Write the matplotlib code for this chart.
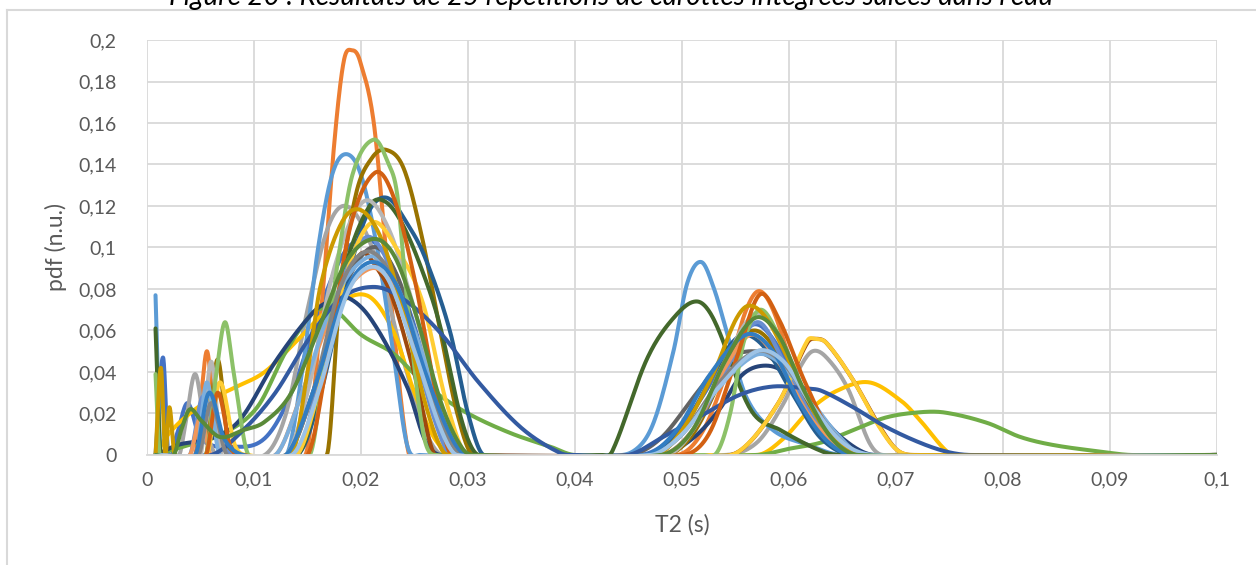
import numpy as np
import matplotlib
matplotlib.use('Agg')
import matplotlib.pyplot as plt
from matplotlib.lines import Line2D

plt.rcParams['font.family'] = ['Lato', 'DejaVu Sans']

# T2 knots in ms, pdf values (n.u.), one pair of lists per repetition
t01 = [0.8, 1.5, 2.0, 2.8, 3.8, 5.0, 8.0, 11.0, 13.5, 16.5, 18.5, 20.5, 22.5, 24.5, 27.5, 30.0, 46.0, 48.5, 51.5, 54.5, 56.8, 59.0, 61.5, 65.0, 68.0, 100]
y01 = [0, 0.047, 0, 0.01, 0.025, 0.008, 0.004, 0.008, 0.03, 0.075, 0.098, 0.104, 0.095, 0.07, 0.02, 0, 0, 0.006, 0.025, 0.05, 0.063, 0.052, 0.025, 0.004, 0, 0]

t02 = [0.8, 2.0, 4.5, 5.1, 5.6, 6.1, 6.8, 8.0, 14.8, 16.3, 17.5, 18.4, 19.2, 19.9, 21.2, 22.5, 24.5, 27.0, 49.5, 52.0, 54.5, 56.0, 57.2, 58.5, 60.5, 63.0, 66.5, 100]
y02 = [0, 0, 0, 0.03, 0.05, 0.03, 0, 0, 0, 0.07, 0.15, 0.19, 0.195, 0.19, 0.16, 0.09, 0, 0, 0, 0.012, 0.045, 0.07, 0.079, 0.07, 0.04, 0.012, 0, 0]

t03 = [0.8, 3.0, 3.6, 4.5, 5.4, 6.5, 11.0, 13.0, 15.0, 16.8, 18.3, 20.0, 22.0, 24.0, 26.0, 27.5, 30.0, 54.0, 57.0, 59.5, 61.0, 62.2, 63.5, 65.5, 67.5, 68.8, 100]
y03 = [0, 0, 0.015, 0.039, 0.015, 0, 0, 0.02, 0.07, 0.108, 0.12, 0.112, 0.085, 0.045, 0.012, 0, 0, 0, 0.006, 0.025, 0.042, 0.05, 0.047, 0.032, 0.006, 0, 0]

t04 = [0.8, 2.0, 4.0, 6.0, 8.0, 11.0, 14.0, 17.0, 20.5, 23.0, 25.0, 27.0, 29.0, 57.0, 59.5, 62.0, 64.5, 67.5, 70.5, 72.2, 74.8, 76.0, 100]
y04 = [0, 0.01, 0.02, 0.027, 0.032, 0.04, 0.055, 0.07, 0.077, 0.06, 0.03, 0.007, 0, 0, 0.008, 0.022, 0.031, 0.035, 0.026, 0.017, 0.0015, 0, 0]

t05 = [0.8, 1.3, 5.0, 13.0, 14.5, 16.0, 17.3, 18.6, 20.0, 21.5, 23.0, 24.3, 25.5, 43.0, 45.5, 47.3, 49.2, 50.5, 51.8, 53.0, 54.2, 56.0, 58.5, 61.7, 65.0, 100]
y05 = [0.077, 0, 0, 0, 0.04, 0.1, 0.135, 0.145, 0.135, 0.1, 0.05, 0.005, 0, 0, 0.002, 0.015, 0.05, 0.083, 0.093, 0.08, 0.059, 0.028, 0.012, 0.005, 0, 0]

t06 = [0.8, 4.0, 7.0, 10.3, 13.0, 15.4, 16.8, 17.8, 20.0, 23.0, 25.2, 27.0, 30.0, 34.0, 37.7, 40.0, 57.0, 60.0, 63.0, 66.0, 69.0, 72.0, 74.5, 78.5, 81.6, 84.7, 89.3, 92.0, 100]
y06 = [0, 0.005, 0.01, 0.023, 0.05, 0.068, 0.071, 0.069, 0.058, 0.049, 0.038, 0.03, 0.02, 0.0105, 0.004, 0, 0, 0.003, 0.006, 0.012, 0.018, 0.0205, 0.0205, 0.0155, 0.0087, 0.0048, 0.0015, 0, 0]

t07 = [0.8, 3.0, 6.0, 8.7, 12.0, 15.4, 17.0, 18.7, 21.0, 24.3, 26.0, 27.5, 48.0, 51.0, 53.5, 55.5, 57.5, 59.5, 62.0, 65.0, 68.0, 100]
y07 = [0, 0.005, 0.008, 0.017, 0.045, 0.068, 0.074, 0.076, 0.065, 0.033, 0.007, 0, 0, 0.008, 0.022, 0.038, 0.043, 0.04, 0.025, 0.008, 0, 0]

t08 = [0.8, 14.0, 16.0, 18.0, 20.0, 21.5, 23.0, 25.2, 26.7, 28.0, 52.0, 55.4, 59.0, 61.7, 62.5, 63.5, 66.0, 68.5, 70.2, 72.0, 100]
y08 = [0, 0, 0.03, 0.075, 0.097, 0.09, 0.075, 0.035, 0.002, 0, 0, 0.002, 0.025, 0.054, 0.056, 0.054, 0.036, 0.0135, 0.002, 0, 0]

t09 = [0.8, 13.0, 15.5, 18.0, 21.0, 23.5, 26.0, 28.0, 30.0, 45.0, 48.0, 51.4, 53.8, 56.4, 58.5, 61.0, 64.0, 67.0, 100]
y09 = [0, 0, 0.03, 0.075, 0.1, 0.085, 0.04, 0.01, 0, 0, 0.008, 0.03, 0.045, 0.05, 0.046, 0.03, 0.01, 0, 0]

t10 = [0.8, 5.5, 6.6, 7.8, 16.8, 18.0, 19.5, 21.0, 22.4, 24.0, 25.7, 27.4, 29.0, 30.5, 48.5, 51.0, 53.5, 55.3, 56.7, 58.0, 60.0, 62.5, 65.0, 67.0, 100]
y10 = [0, 0, 0.046, 0, 0, 0.075, 0.125, 0.143, 0.147, 0.138, 0.105, 0.06, 0.02, 0, 0, 0.01, 0.035, 0.055, 0.06, 0.056, 0.04, 0.018, 0.004, 0, 0]

t11 = [0.8, 14.0, 16.0, 18.5, 20.5, 22.4, 24.5, 26.0, 28.3, 30.0, 31.5, 47.0, 50.0, 52.5, 54.5, 56.0, 58.0, 60.5, 63.0, 66.0, 100]
y11 = [0, 0, 0.025, 0.08, 0.115, 0.124, 0.11, 0.095, 0.06, 0.02, 0, 0, 0.012, 0.035, 0.053, 0.058, 0.05, 0.028, 0.008, 0, 0]

t12 = [0.8, 1.3, 14.0, 16.5, 18.5, 20.8, 22.3, 24.0, 26.0, 27.4, 29.5, 31.0, 42.5, 43.5, 46.7, 49.2, 51.4, 53.0, 56.4, 59.2, 63.2, 65.0, 100]
y12 = [0.061, 0, 0, 0.04, 0.09, 0.12, 0.122, 0.11, 0.085, 0.062, 0.015, 0, 0, 0.002, 0.046, 0.066, 0.074, 0.065, 0.022, 0.012, 0.0015, 0, 0]

t13 = [0.8, 4.0, 5.2, 6.5, 8.0, 14.0, 16.0, 18.3, 20.5, 22.5, 24.5, 27.0, 28.5, 48.0, 51.0, 54.0, 57.0, 59.5, 62.0, 65.0, 67.0, 100]
y13 = [0, 0, 0.028, 0.01, 0, 0, 0.035, 0.085, 0.105, 0.093, 0.06, 0.015, 0, 0, 0.012, 0.04, 0.064, 0.045, 0.02, 0.004, 0, 0]

t14 = [0.8, 4.0, 5.0, 6.0, 12.0, 14.5, 17.5, 21.0, 23.5, 26.0, 28.5, 30.0, 48.0, 51.0, 54.0, 56.5, 59.0, 62.0, 65.0, 67.0, 100]
y14 = [0, 0, 0.018, 0, 0, 0.03, 0.07, 0.09, 0.077, 0.04, 0.008, 0, 0, 0.012, 0.042, 0.058, 0.045, 0.018, 0.003, 0, 0]

t15 = [0.8, 5.0, 6.0, 7.0, 13.0, 15.0, 17.5, 20.2, 22.5, 25.0, 27.0, 29.0, 30.0, 48.5, 51.0, 54.0, 56.8, 59.0, 61.5, 64.0, 66.5, 100]
y15 = [0, 0, 0.045, 0, 0, 0.03, 0.09, 0.122, 0.11, 0.07, 0.03, 0.003, 0, 0, 0.012, 0.045, 0.068, 0.058, 0.03, 0.008, 0, 0]

t16 = [0.8, 5.6, 6.8, 8.2, 9.5, 14.0, 16.0, 18.5, 21.0, 23.5, 25.8, 28.0, 30.0, 52.5, 55.4, 59.0, 61.7, 62.4, 63.5, 66.0, 68.5, 70.2, 72.0, 100]
y16 = [0, 0, 0.035, 0.005, 0, 0, 0.03, 0.085, 0.112, 0.098, 0.073, 0.025, 0, 0, 0.002, 0.025, 0.055, 0.056, 0.054, 0.036, 0.013, 0.002, 0, 0]

t17 = [0.8, 4.6, 5.6, 6.8, 12.0, 14.5, 17.5, 20.5, 22.5, 25.0, 27.5, 29.5, 47.0, 50.0, 53.0, 56.8, 59.0, 61.5, 64.5, 67.0, 100]
y17 = [0, 0, 0.035, 0, 0, 0.03, 0.075, 0.095, 0.09, 0.06, 0.02, 0, 0, 0.01, 0.03, 0.048, 0.045, 0.03, 0.01, 0, 0]

t18 = [0.8, 1.2, 5.5, 6.5, 7.3, 8.1, 9.5, 15.2, 16.5, 17.8, 19.2, 21.2, 22.6, 23.4, 24.3, 25.8, 27.0, 52.0, 53.3, 54.5, 55.8, 57.3, 59.0, 61.0, 63.5, 66.0, 100]
y18 = [0.039, 0, 0, 0.04, 0.064, 0.04, 0, 0, 0.04, 0.092, 0.135, 0.152, 0.14, 0.125, 0.075, 0.011, 0, 0, 0.0015, 0.02, 0.055, 0.07, 0.058, 0.035, 0.012, 0, 0]

t19 = [0.8, 6.0, 9.0, 12.0, 15.0, 18.0, 21.2, 24.0, 27.4, 31.0, 35.0, 38.6, 40.0, 45.0, 48.0, 51.5, 55.4, 58.5, 61.7, 63.0, 66.0, 69.0, 72.2, 74.8, 77.0, 100]
y19 = [0, 0, 0.012, 0.03, 0.055, 0.075, 0.081, 0.075, 0.059, 0.035, 0.013, 0.001, 0, 0, 0.008, 0.018, 0.029, 0.033, 0.032, 0.031, 0.023, 0.0137, 0.006, 0.0015, 0, 0]

t20 = [0.8, 5.5, 6.6, 7.8, 9.0, 15.0, 17.0, 19.0, 21.3, 23.0, 25.0, 27.0, 28.5, 50.0, 52.5, 55.0, 57.2, 59.0, 61.5, 64.0, 67.0, 100]
y20 = [0, 0, 0.03, 0.004, 0, 0, 0.05, 0.11, 0.136, 0.125, 0.085, 0.03, 0, 0, 0.01, 0.045, 0.077, 0.066, 0.035, 0.01, 0, 0]

t21 = [0.8, 4.8, 6.0, 7.5, 13.0, 15.5, 18.0, 20.5, 23.0, 25.5, 28.0, 29.5, 47.0, 50.0, 53.5, 57.0, 59.5, 62.0, 65.0, 67.5, 100]
y21 = [0, 0, 0.025, 0, 0, 0.03, 0.08, 0.098, 0.085, 0.045, 0.01, 0, 0, 0.01, 0.035, 0.05, 0.044, 0.025, 0.006, 0, 0]

t22 = [0.8, 1.3, 1.7, 2.1, 2.6, 13.5, 15.0, 16.2, 18.2, 20.0, 22.0, 24.0, 26.0, 27.5, 28.5, 47.5, 50.0, 53.0, 55.0, 56.3, 58.0, 60.5, 63.0, 65.5, 67.0, 100]
y22 = [0, 0.042, 0, 0.023, 0, 0, 0.04, 0.081, 0.112, 0.118, 0.103, 0.068, 0.025, 0.003, 0, 0, 0.012, 0.04, 0.065, 0.072, 0.065, 0.04, 0.015, 0.002, 0, 0]

t23 = [0.8, 4.5, 5.8, 7.2, 9.0, 13.0, 15.5, 18.5, 21.0, 23.5, 26.0, 28.5, 30.0, 46.5, 49.5, 52.5, 56.0, 58.5, 61.0, 63.5, 66.0, 100]
y23 = [0, 0, 0.03, 0.008, 0, 0, 0.03, 0.078, 0.093, 0.08, 0.04, 0.008, 0, 0, 0.012, 0.038, 0.058, 0.05, 0.025, 0.007, 0, 0]

t24 = [0.8, 13.5, 16.0, 18.5, 20.5, 22.5, 25.0, 27.5, 29.0, 47.0, 50.0, 53.5, 57.0, 59.5, 62.0, 65.0, 68.0, 100]
y24 = [0, 0, 0.03, 0.075, 0.09, 0.085, 0.05, 0.012, 0, 0, 0.01, 0.033, 0.05, 0.045, 0.025, 0.006, 0, 0]

t25 = [0.8, 2.5, 3.2, 4.0, 5.0, 6.8, 9.0, 11.0, 13.5, 16.0, 18.5, 21.0, 23.0, 25.0, 27.5, 29.5, 31.0, 48.0, 51.0, 54.0, 56.8, 59.0, 61.5, 64.0, 66.5, 100]
y25 = [0, 0, 0.012, 0.022, 0.017, 0.0087, 0.012, 0.016, 0.03, 0.06, 0.092, 0.104, 0.097, 0.07, 0.025, 0.003, 0, 0, 0.012, 0.045, 0.066, 0.058, 0.03, 0.008, 0, 0]

series = [(t01, y01), (t02, y02), (t03, y03), (t04, y04), (t05, y05), (t06, y06),
          (t07, y07), (t08, y08), (t09, y09), (t10, y10), (t11, y11), (t12, y12),
          (t13, y13), (t14, y14), (t15, y15), (t16, y16), (t17, y17), (t18, y18),
          (t19, y19), (t20, y20), (t21, y21), (t22, y22), (t23, y23), (t24, y24),
          (t25, y25)]

colors = ['#4472C4', '#ED7D31', '#A5A5A5', '#FFC000', '#5B9BD5', '#70AD47',
          '#264478', '#9E480E', '#636363', '#997300', '#255E91', '#43682B',
          '#698ED0', '#F1975A', '#B7B7B7', '#FFCD33', '#7CAFDD', '#8CC168',
          '#335AA1', '#D26012', '#848484', '#CC9A00', '#327DC2', '#9DC3E6',
          '#5A8A39']

x_ticks = [0, 0.01, 0.02, 0.03, 0.04, 0.05, 0.06, 0.07, 0.08, 0.09, 0.1]
y_ticks = [0, 0.02, 0.04, 0.06, 0.08, 0.1, 0.12, 0.14, 0.16, 0.18, 0.2]


def smooth_line(t, y, n=24):
    # Excel-like "smoothed line": cubic Hermite through the knots
    t = np.asarray(t, float)
    y = np.asarray(y, float)
    m = np.zeros_like(y)
    m[1:-1] = (y[2:] - y[:-2]) / (t[2:] - t[:-2])
    m[0] = (y[1] - y[0]) / (t[1] - t[0])
    m[-1] = (y[-1] - y[-2]) / (t[-1] - t[-2])
    xs, ys = [], []
    for i in range(len(t) - 1):
        h = t[i + 1] - t[i]
        s = np.linspace(0, 1, n, endpoint=False)
        h00 = 2 * s**3 - 3 * s**2 + 1
        h10 = s**3 - 2 * s**2 + s
        h01 = -2 * s**3 + 3 * s**2
        h11 = s**3 - s**2
        xs.append(t[i] + s * h)
        ys.append(h00 * y[i] + h10 * h * m[i] + h01 * y[i + 1] + h11 * h * m[i + 1])
    xs.append([t[-1]])
    ys.append([y[-1]])
    return np.concatenate(xs), np.concatenate(ys)


def fmt(v):
    s = ('%.2f' % v).rstrip('0').rstrip('.')
    return s.replace('.', ',')


fig = plt.figure(figsize=(12.56, 5.65), dpi=100)
ax = fig.add_axes([0.117, 0.1947, 0.852, 0.7345])

for (t, y), c in zip(series, colors):
    xs, ys = smooth_line(t, y)
    ax.plot(xs / 1000.0, ys, color=c, lw=2.9, solid_capstyle='round')

ax.set_xlim(0, 0.1)
ax.set_ylim(0, 0.2)
ax.set_xticks(x_ticks)
ax.set_yticks(y_ticks)
ax.set_xticklabels([fmt(v) for v in x_ticks])
ax.set_yticklabels([fmt(v) for v in y_ticks])
ax.grid(True, color='#D9D9D9', lw=1.3)
ax.set_axisbelow(True)
for s in ['top', 'right', 'left']:
    ax.spines[s].set_visible(False)
ax.spines['bottom'].set_color('#D9D9D9')
ax.spines['bottom'].set_linewidth(1.3)
ax.tick_params(length=0, labelsize=14, labelcolor='#595959')
ax.tick_params(axis='y', pad=22)
ax.tick_params(axis='x', pad=12)
ax.set_xlabel('T2 (s)', fontsize=16.5, color='#595959', labelpad=18)
ax.set_ylabel('pdf (n.u.)', fontsize=16.5, color='#595959', labelpad=8)

# chart area border and cut-off caption
fig.add_artist(Line2D([7 / 1256, 1], [1 - 10 / 565, 1 - 10 / 565], color='#D9D9D9', lw=1.5))
fig.add_artist(Line2D([7 / 1256, 7 / 1256], [0, 1 - 10 / 565], color='#D9D9D9', lw=1.5))
fig.text(611 / 1256, 1 - 5 / 565, "Figure 20 : Résultats de 25 répétitions de carottes intégrées salées dans l'eau",
         ha='center', va='baseline', fontsize=20, style='italic', color='black')

fig.savefig('out.png', dpi=100)
